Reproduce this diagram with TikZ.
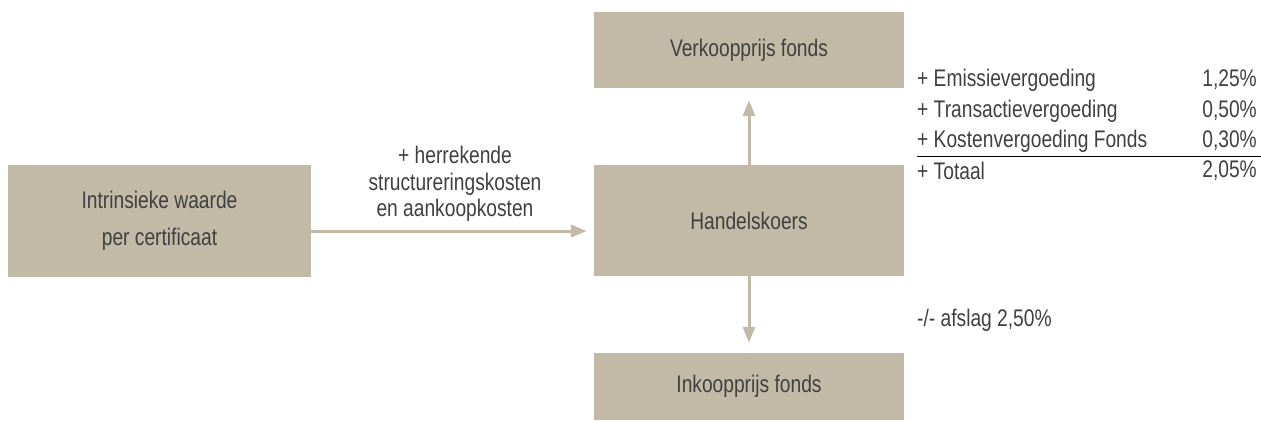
\documentclass[tikz,border=0pt]{standalone}
\usepackage{fontspec}
\setmainfont[FakeStretch=0.80]{Liberation Sans}
\usetikzlibrary{arrows.meta}
\definecolor{taupe}{RGB}{194,185,166}
\definecolor{txt}{RGB}{64,64,64}

\begin{document}
\begin{tikzpicture}[x=1pt, y=-1pt,
    box/.style={fill=taupe, draw=none, inner sep=0pt, align=center, text=txt, font=\fontsize{24}{37}\selectfont},
    pijl/.style={line width=3pt, taupe, -{Triangle[width=12pt,length=16pt]}},
    lbl/.style={text=txt, font=\fontsize{24}{26.5}\selectfont, inner sep=0pt}]
    \useasboundingbox (0,0) rectangle (1261,421);

    % boxes
    \node[box, minimum width=303pt, minimum height=112pt] (intr) at (159.5,221) {Intrinsieke waarde\\per certificaat};
    \node[box, minimum width=310pt, minimum height=111pt] (handel) at (749,220.5) {Handelskoers};
    \node[box, minimum width=310pt, minimum height=76pt] (verkoop) at (749,50) {Verkoopprijs fonds};
    \node[box, minimum width=310pt, minimum height=67pt] (inkoop) at (749,386.5) {Inkoopprijs fonds};

    % arrows
    \draw[pijl, shorten >=7pt] (intr.east |- 0,231) -- (handel.west |- 0,231);
    \draw[pijl, shorten >=12pt] (handel.north) -- (verkoop.south);
    \draw[pijl, shorten >=10pt] (handel.south) -- (inkoop.north);

    \node[lbl, align=center] (kosten) at (455,184) {+ herrekende\\structureringskosten\\en aankoopkosten};

    % table
    \node[lbl, anchor=west] (emis) at (917,80) {+ Emissievergoeding};
    \node[lbl, anchor=west] (trans) at (917,111) {+ Transactievergoeding};
    \node[lbl, anchor=west] (kost) at (917,141) {+ Kostenvergoeding Fonds};
    \node[lbl, anchor=west] (tot) at (917,171) {+ Totaal};
    \node[lbl, anchor=east] (emisv) at (1257,80) {1,25\%};
    \node[lbl, anchor=east] (transv) at (1257,111) {0,50\%};
    \node[lbl, anchor=east] (kostv) at (1257,141) {0,30\%};
    \node[lbl, anchor=east] (totv) at (1257,171) {2,05\%};
    \draw[line width=1pt, black] (917,156) -- (1261,156);

    \node[lbl, anchor=west] (afslag) at (917,320) {-/- afslag 2,50\%};
\end{tikzpicture}
\end{document}
